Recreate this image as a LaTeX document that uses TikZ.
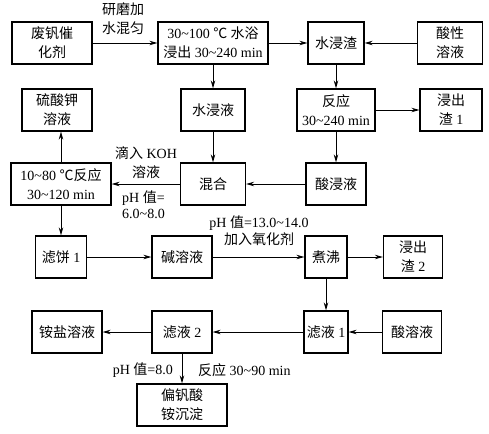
\documentclass[tikz,border=0pt]{standalone}
\usepackage{fontspec}
\setmainfont{Liberation Serif}
\newfontfamily\zhfont{Noto Sans CJK SC}
\newcommand{\zh}[1]{{\zhfont #1}}
\usetikzlibrary{arrows.meta}

\begin{document}
\begin{tikzpicture}[x=1pt,y=-1pt,
  font=\fontsize{14}{19}\selectfont,
  box/.style={draw,line width=1.2pt,minimum height=42,inner sep=1pt,align=center},
  flow/.style={-{Stealth[length=8pt,width=4.5pt]},line width=0.9pt},
  note/.style={inner sep=1pt,align=center}]

\useasboundingbox (0,0) rectangle (489,433);

%draw boxes, row by row
  \node[box,minimum width=80]  (waste) at (52,43)  {\zh{废钒催}\\\zh{化剂}};
  \node[box,minimum width=110] (leach) at (213,43) {30\textasciitilde100 \zh{℃ 水浴}\\\zh{浸出} 30\textasciitilde240 min};
  \node[box,minimum width=56]  (wres)  at (336,43) {\zh{水浸渣}};
  \node[box,minimum width=65]  (acid)  at (450,43) {\zh{酸性}\\\zh{溶液}};

  \node[box,minimum width=70]  (k2so4) at (57,110)  {\zh{硫酸钾}\\\zh{溶液}};
  \node[box,minimum width=64]  (wliq)  at (213,110) {\zh{水浸液}};
  \node[box,minimum width=78]  (react) at (336,110) {\zh{反应}\\30\textasciitilde240 min};
  \node[box,minimum width=62]  (res1)  at (451,110) {\zh{浸出}\\\zh{渣} 1};

  \node[box,minimum width=100] (calc)  at (61,184)  {10\textasciitilde80 \zh{℃反应}\\30\textasciitilde120 min};
  \node[box,minimum width=65]  (mix)   at (213,184) {\zh{混合}};
  \node[box,minimum width=60]  (aliq)  at (336,184) {\zh{酸浸液}};

  \node[box,minimum width=51]  (cake)  at (61,257)  {\zh{滤饼} 1};
  \node[box,minimum width=60]  (alk)   at (182,257) {\zh{碱溶液}};
  \node[box,minimum width=42]  (boil)  at (326,257) {\zh{煮沸}};
  \node[box,minimum width=59]  (res2)  at (413,257) {\zh{浸出}\\\zh{渣} 2};

  \node[box,minimum width=70]  (amsalt) at (67,332)  {\zh{铵盐溶液}};
  \node[box,minimum width=60]  (filt2)  at (182,332) {\zh{滤液} 2};
  \node[box,minimum width=44]  (filt1)  at (326,332) {\zh{滤液} 1};
  \node[box,minimum width=59]  (acsol)  at (412,332) {\zh{酸溶液}};

  \node[box,minimum width=90]  (nh4vo3) at (182,405) {\zh{偏钒酸}\\\zh{铵沉淀}};

%process conditions
  \node[note] (grind) at (123,19) {\zh{研磨加}\\\zh{水混匀}};
  \node[note] (koh) at (146,163) {\zh{滴入} KOH\\\zh{溶液}};
  \node[note,align=left,anchor=north west] (ph1) at (121,190) {pH \zh{值}=\\[-3pt]6.0\textasciitilde8.0};
  \node[note] (ox) at (259,231) {pH \zh{值}=13.0\textasciitilde14.0\\[-2pt]\zh{加入氧化剂}};
  \node[note,anchor=east] (ph2) at (174,370) {pH \zh{值}=8.0};
  \node[note,anchor=west] (rt) at (197,370) {\zh{反应} 30\textasciitilde90 min};

%draw flows
  \draw[flow] (waste) -- (leach);
  \draw[flow] (leach) -- (wres);
  \draw[flow] (acid) -- (wres);
  \draw[flow] (leach) -- (wliq);
  \draw[flow] (wres) -- (react);
  \draw[flow] (react) -- (res1);
  \draw[flow] (react) -- (aliq);
  \draw[flow] (wliq) -- (mix);
  \draw[flow] (aliq) -- (mix);
  \draw[flow] (mix) -- (calc);
  \draw[flow] (calc) -- (calc |- k2so4.south);
  \draw[flow] (calc) -- (cake);
  \draw[flow] (cake) -- (alk);
  \draw[flow] (alk) -- (boil);
  \draw[flow] (boil) -- (res2);
  \draw[flow] (boil) -- (filt1);
  \draw[flow] (acsol) -- (filt1);
  \draw[flow] (filt1) -- (filt2);
  \draw[flow] (filt2) -- (amsalt);
  \draw[flow] (filt2) -- (nh4vo3);

\end{tikzpicture}
\end{document}
